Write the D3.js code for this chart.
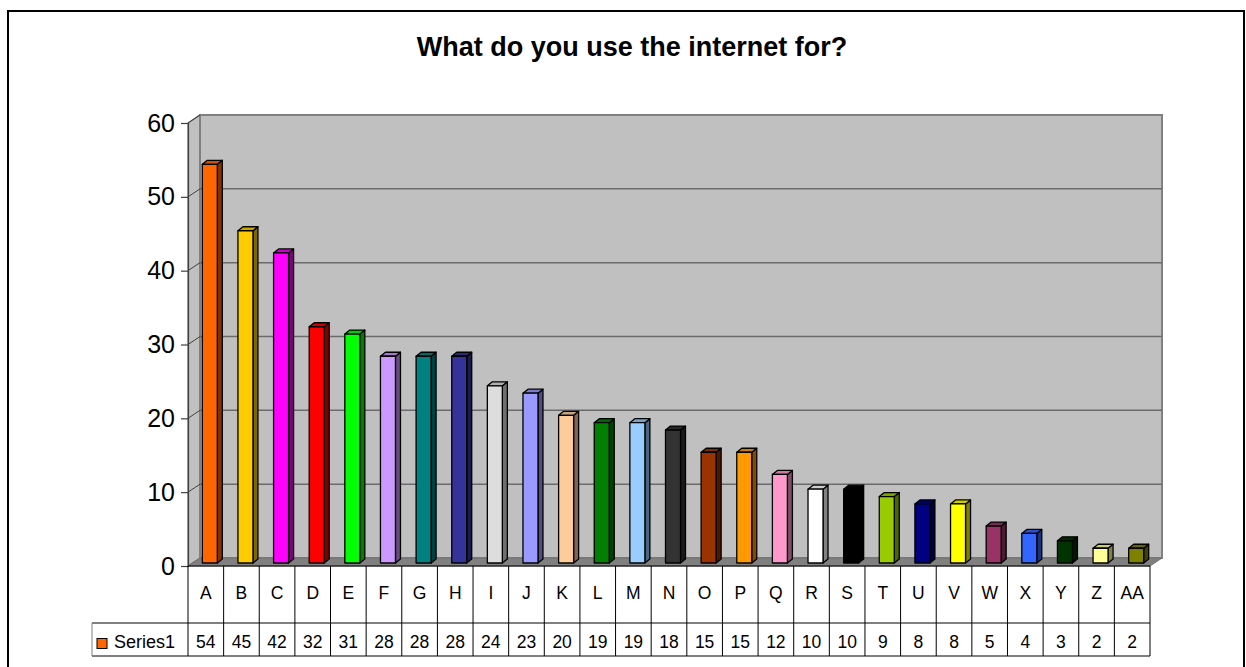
<!DOCTYPE html>
<html>
<head>
<meta charset="utf-8">
<script src="https://cdn.jsdelivr.net/npm/d3@7/dist/d3.min.js"></script>
<style>
  html, body { margin: 0; padding: 0; background: #fff; }
  svg { display: block; font-family: Arial, "Liberation Sans", sans-serif; }
</style>
</head>
<body>
<svg id="chart" width="1246" height="667"></svg>
<script>
// Survey answers: category letters, counts and bar fill colours
const categories = ["A","B","C","D","E","F","G","H","I","J","K","L","M","N","O","P","Q","R","S","T","U","V","W","X","Y","Z","AA"];
const values = [54,45,42,32,31,28,28,28,24,23,20,19,19,18,15,15,12,10,10,9,8,8,5,4,3,2,2];
const barColors = ["#FF6600","#FFCC00","#FF00FF","#FF0000","#00FF00","#CC99FF","#008080","#333399","#DDDDDD","#9999FF",
                   "#FFCC99","#008000","#99CCFF","#333333","#993300","#FF9900","#FF99CC","#FFFFFF","#000000","#99CC00",
                   "#000080","#FFFF00","#993366","#3366FF","#003300","#FFFF99","#808000"];
const yTicks = [0,10,20,30,40,50,60];
const seriesName = "Series1";
const chartTitle = "What do you use the internet for?";

const svg = d3.select("#chart");

// layout of the 3-D plot box
const plotL = 188, plotR = 1150, plotB = 566, plotT = 123;
const depthX = 12, depthY = -8;          // wall depth offset
const barOffX = 4, barOffY = -3;         // where the bar front sits inside the depth
const barDX = 5, barDY = -4;             // bar thickness
const barW = 15;

const x = d3.scaleBand().domain(categories).range([plotL, plotR]).padding(0);
const y = d3.scaleLinear().domain([0, 60]).range([plotB, plotT]);

// outer frame
svg.append("rect").attr("x", 8).attr("y", 11).attr("width", 1236).attr("height", 680)
  .attr("fill", "#fff").attr("stroke", "#000").attr("stroke-width", 2);

// title
svg.append("text").attr("x", 632).attr("y", 56).attr("text-anchor", "middle")
  .attr("font-size", 27).attr("font-weight", "bold").text(chartTitle);

// side wall
svg.append("polygon")
  .attr("points", [[plotL, plotT], [plotL + depthX, plotT + depthY], [plotL + depthX, plotB + depthY], [plotL, plotB]].join(" "))
  .attr("fill", "#C0C0C0").attr("stroke", "#808080").attr("stroke-width", 1.5);

// back wall
svg.append("rect")
  .attr("x", plotL + depthX).attr("y", plotT + depthY)
  .attr("width", plotR - plotL).attr("height", plotB - plotT)
  .attr("fill", "#C0C0C0").attr("stroke", "#808080").attr("stroke-width", 2);

// gridlines on back wall and side wall
const grid = svg.append("g");
yTicks.filter(t => t > 0).forEach(t => {
  if (t < 60) {
    grid.append("line")
      .attr("x1", plotL + depthX).attr("x2", plotR + depthX)
      .attr("y1", y(t) + depthY).attr("y2", y(t) + depthY)
      .attr("stroke", "#6b6b6b").attr("stroke-width", 1.5);
  }
  grid.append("line")
    .attr("x1", plotL).attr("x2", plotL + depthX)
    .attr("y1", y(t)).attr("y2", y(t) + depthY)
    .attr("stroke", "#404040").attr("stroke-width", 1);
});

// floor
svg.append("polygon")
  .attr("points", [[plotL, plotB], [plotR, plotB], [plotR + depthX, plotB + depthY], [plotL + depthX, plotB + depthY]].join(" "))
  .attr("fill", "#808080").attr("stroke", "#707070").attr("stroke-width", 1);

// y axis
const yAxis = svg.append("g").attr("transform", `translate(${plotL},0)`)
  .call(d3.axisLeft(y).tickValues(yTicks).tickSize(7).tickPadding(6));
yAxis.select(".domain").attr("stroke", "#404040").attr("stroke-width", 1.2);
yAxis.selectAll(".tick line").attr("stroke", "#404040").attr("stroke-width", 1.2);
yAxis.selectAll(".tick text").attr("font-size", 25).attr("fill", "#000")
  .attr("font-family", "Arial, 'Liberation Sans', sans-serif");

// 3-D bars
const shade = (c, k) => { const h = d3.rgb(c); return d3.rgb(h.r * k, h.g * k, h.b * k).formatHex(); };
const bars = svg.append("g");
categories.forEach((cat, i) => {
  const v = values[i];
  const cx = x(cat) + x.bandwidth() / 2 + barOffX;
  const x0 = cx - barW / 2, x1 = cx + barW / 2;
  const yb = y(0) + barOffY, yt = y(v) + barOffY;
  const g = bars.append("g").attr("stroke", "#000").attr("stroke-width", 1.3).attr("stroke-linejoin", "round");
  // side face
  g.append("polygon")
    .attr("points", [[x1, yt], [x1 + barDX, yt + barDY], [x1 + barDX, yb + barDY], [x1, yb]].join(" "))
    .attr("fill", shade(barColors[i], 0.5));
  // top face
  g.append("polygon")
    .attr("points", [[x0, yt], [x0 + barDX, yt + barDY], [x1 + barDX, yt + barDY], [x1, yt]].join(" "))
    .attr("fill", shade(barColors[i], 0.8));
  // front face
  g.append("rect").attr("x", x0).attr("y", yt).attr("width", barW).attr("height", yb - yt)
    .attr("fill", barColors[i]);
});

// data table below the plot
const rowTop = plotB, rowMid = 623, rowBot = 656, legendLeft = 92;
const table = svg.append("g").attr("stroke", "#000").attr("stroke-width", 1);
table.append("line").attr("x1", plotL).attr("x2", plotR).attr("y1", rowTop).attr("y2", rowTop);
table.append("line").attr("x1", legendLeft).attr("x2", plotR).attr("y1", rowMid).attr("y2", rowMid);
table.append("line").attr("x1", legendLeft).attr("x2", plotR).attr("y1", rowBot).attr("y2", rowBot);
table.append("line").attr("x1", legendLeft).attr("x2", legendLeft).attr("y1", rowMid).attr("y2", rowBot).attr("stroke", "#808080");
categories.forEach(cat => {
  table.append("line").attr("x1", x(cat)).attr("x2", x(cat)).attr("y1", rowTop).attr("y2", rowBot);
});
table.append("line").attr("x1", plotR).attr("x2", plotR).attr("y1", rowTop).attr("y2", rowBot);

const labels = svg.append("g").attr("font-size", 17.5).attr("text-anchor", "middle").attr("fill", "#000");
categories.forEach((cat, i) => {
  const cx = x(cat) + x.bandwidth() / 2;
  labels.append("text").attr("x", cx).attr("y", 599).text(cat);
  labels.append("text").attr("x", cx).attr("y", 648).text(values[i]);
});

// legend key in the table
svg.append("rect").attr("x", 97).attr("y", 638.5).attr("width", 10).attr("height", 10)
  .attr("fill", barColors[0]).attr("stroke", "#000").attr("stroke-width", 1);
svg.append("text").attr("x", 114).attr("y", 648).attr("font-size", 18).text(seriesName);
</script>
</body>
</html>
